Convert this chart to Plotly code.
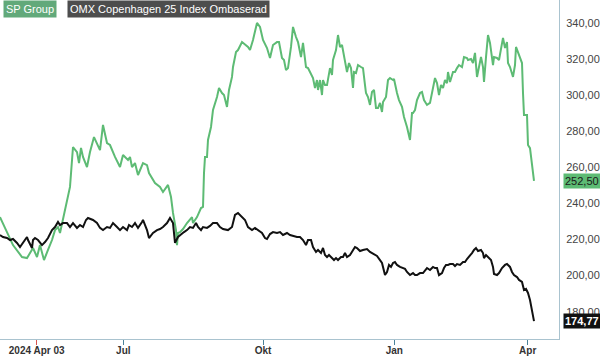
import plotly.graph_objects as go

# time index (session position) and values
t_sp = [0,7,13,22,27,33,37,40,44,48,52,55,58,60,63,67,70,73,77,79,81,83,87,90,94,100,103,107,110,115,120,123,128,130,132,135,138,143,147,149,152,155,160,163,168,171,173,176,177,178,180,183,187,192,193,197,201,203,204,205,207,208,211,213,217,219,222,224,227,229,232,233,236,238,242,245,248,250,253,257,260,263,267,270,273,277,279,282,284,286,288,291,293,296,298,301,303,306,308,310,313,315,317,318,320,322,323,325,327,330,332,333,336,338,340,342,344,347,349,351,353,354,356,358,361,363,365,366,368,370,372,374,376,378,380,382,383,386,388,390,393,394,397,399,402,404,407,410,412,413,415,417,420,422,424,427,430,433,435,437,439,441,443,445,447,448,450,453,455,457,459,462,464,467,468,471,473,475,477,478,481,483,484,486,488,490,493,494,497,499,502,503,505,507,508,510,513,515,516,518,520,522,523,524,527,528,530,532,534]
sp_values = [232.4,223.6,216.9,210.3,209.7,215.3,210.3,216.9,208.6,214.2,219.7,225.2,226.9,223.6,230.8,241.9,249.1,271.2,268.4,262.3,270.7,265.7,260.1,268.4,276.7,269.5,283.4,273.4,272.3,265.7,260.1,266.8,264.0,265.7,260.1,262.3,255.7,262.3,261.2,256.8,254.0,251.3,249.1,246.3,250.2,243.5,234.7,225.2,216.9,223.6,224.1,225.8,229.1,232.4,229.1,232.4,237.4,238.0,256.8,265.7,265.7,275.1,282.3,291.7,298.9,303.9,301.1,300.0,293.4,302.8,310.0,315.5,323.8,324.9,329.3,327.7,326.6,324.9,330.5,339.9,337.7,330.5,326.0,320.5,327.7,329.3,329.3,320.5,319.4,313.8,314.9,326.6,337.7,332.1,329.3,321.0,328.8,315.5,314.9,312.7,309.4,303.9,308.3,302.8,308.3,300.0,308.3,305.5,305.5,314.9,311.1,319.4,324.9,333.2,326.6,327.7,322.1,312.7,317.7,314.9,303.9,312.7,312.2,316.6,315.5,314.9,305.5,301.1,298.9,294.5,301.7,302.8,292.8,292.8,295.6,290.6,296.1,298.9,308.3,309.4,308.3,308.9,301.1,297.2,293.4,287.8,282.3,275.1,290.0,290.0,291.7,297.2,301.1,301.7,297.2,294.5,295.6,304.4,309.4,306.6,300.0,305.5,303.9,308.3,306.6,312.7,307.2,312.7,312.7,314.9,316.6,315.5,321.0,320.5,319.4,319.9,317.7,323.3,310.0,312.7,321.0,315.5,307.2,321.0,333.2,328.8,316.6,321.0,320.5,319.4,329.3,331.6,326.0,329.3,317.7,315.5,310.0,316.6,326.6,323.8,320.5,317.7,301.1,288.9,288.9,272.3,270.6,262.3,252.5]

t_omx = [0,3,7,10,13,17,20,23,27,28,32,33,35,38,42,45,48,52,55,58,60,63,67,70,73,77,80,83,86,88,90,93,97,100,103,107,110,113,117,120,123,127,129,132,135,138,142,143,147,149,153,157,160,163,167,170,173,175,178,181,184,187,190,193,196,198,201,203,207,210,213,217,220,223,228,232,235,238,242,245,248,252,255,258,262,265,267,270,273,277,280,283,287,290,293,297,300,303,306,308,311,313,316,318,321,323,325,327,329,332,334,336,338,341,343,345,347,350,353,355,357,360,363,367,370,373,377,380,382,383,385,387,389,391,393,395,397,400,403,405,407,410,413,415,417,420,423,427,430,433,435,437,439,442,444,446,448,450,453,455,457,460,463,465,467,469,472,474,476,478,481,483,484,486,488,491,493,494,497,499,502,505,507,510,512,514,517,519,522,524,526,528,530,532,534]
omx_values = [222.5,221.4,220.8,219.7,220.3,218.1,215.8,218.1,221.4,219.7,215.3,219.7,220.8,219.7,216.9,218.6,220.8,225.2,226.9,229.7,228.0,229.1,229.1,226.9,229.1,226.4,228.0,226.9,230.8,231.9,231.3,230.8,229.1,226.4,225.2,226.9,226.4,229.1,226.9,225.2,226.9,225.2,228.0,226.9,229.1,226.4,229.7,230.8,225.2,220.8,223.6,225.2,225.8,226.9,229.1,231.9,229.1,218.1,221.4,223.0,224.1,225.2,226.9,226.4,229.1,226.9,225.2,226.9,226.4,227.5,229.1,229.1,226.9,225.8,225.2,226.9,233.6,234.7,232.4,230.8,226.9,225.2,226.4,225.2,223.6,220.8,220.3,223.0,224.1,223.6,224.1,222.5,223.6,222.5,221.9,221.4,221.4,219.7,216.9,219.7,219.7,215.8,213.1,214.2,212.5,215.3,211.4,210.3,211.4,209.7,208.6,209.7,208.6,210.3,210.3,212.5,210.3,211.4,214.2,215.8,215.3,213.6,214.2,214.7,213.1,212.0,210.9,208.6,207.0,204.8,200.3,202.0,205.9,204.8,207.0,207.5,205.9,204.8,204.2,203.7,202.0,200.3,201.4,200.3,200.3,201.4,201.4,204.2,203.1,204.8,204.2,204.2,200.3,201.4,204.2,205.9,205.9,206.4,206.4,205.3,206.4,205.9,207.5,207.5,209.2,210.3,212.5,214.2,215.3,213.6,214.2,212.5,209.7,211.4,210.3,208.6,204.8,200.9,200.3,201.4,204.2,205.9,206.4,204.8,202.0,200.3,199.2,197.6,196.5,192.0,192.6,190.4,186.5,181.0,174.77]

x_tick_pos = [123.3, 263, 394.3, 527.7]
x_tick_text = ["Jul", "Okt", "Jan", "Apr"]
ref_tick_pos = [36.7]
ref_tick_text = ["2024 Apr 03"]
y_ticks = [180, 200, 220, 240, 260, 280, 300, 320, 340]

sp_name = "SP Group"
omx_name = "OMX Copenhagen 25 Index Ombaserad"
GREEN = "#5dbb74"
FONT = "Liberation Sans, Arial, sans-serif"

fig = go.Figure()
fig.add_trace(go.Scatter(x=t_sp, y=sp_values, mode="lines", name=sp_name,
                         line=dict(color=GREEN, width=2), hoverinfo="skip"))
fig.add_trace(go.Scatter(x=t_omx, y=omx_values, mode="lines", name=omx_name,
                         line=dict(color="#111111", width=2), hoverinfo="skip"))
# pointer triangles for last-value badges
fig.add_trace(go.Scatter(x=[562], y=[sp_values[-1]], mode="markers", cliponaxis=False,
                         marker=dict(symbol="triangle-left", size=10, color=GREEN), hoverinfo="skip"))
fig.add_trace(go.Scatter(x=[562], y=[omx_values[-1]], mode="markers", cliponaxis=False,
                         marker=dict(symbol="triangle-left", size=10, color="#111111"), hoverinfo="skip"))
# overlay axis carries the red reference tick
fig.add_trace(go.Scatter(x=[None], y=[None], xaxis="x2", hoverinfo="skip"))

fig.update_layout(
    width=600, height=358,
    margin=dict(l=0, r=41, t=0, b=19, autoexpand=False),
    paper_bgcolor="white", plot_bgcolor="white",
    showlegend=False,
    separators=", ",
    font=dict(family=FONT, size=11, color="#444"),
    xaxis=dict(range=[0, 559], showgrid=False, zeroline=False, automargin=False,
               showline=True, linecolor="#a9c3cf", linewidth=1,
               tickvals=x_tick_pos, ticktext=["<b>%s</b>" % s for s in x_tick_text],
               ticks="outside", ticklen=5, tickcolor="#4a8299", tickwidth=1,
               ticklabelstandoff=-3,
               tickfont=dict(family=FONT, size=10, color="#333"),
               ),
    xaxis2=dict(range=[0, 559], overlaying="x", side="bottom", showgrid=False,
                zeroline=False, showline=False, automargin=False,
                tickvals=ref_tick_pos, ticktext=["<b>%s</b>" % s for s in ref_tick_text],
                ticks="outside", ticklen=5, tickcolor="#d9534f", tickwidth=1,
                ticklabelstandoff=-3,
                tickfont=dict(family=FONT, size=10, color="#333")),
    yaxis=dict(range=[164.9, 352.6], side="right", showgrid=False, zeroline=False,
               showline=True, linecolor="#a9c3cf", linewidth=1, automargin=False,
               tickvals=y_ticks, tickformat=".2f", ticks="",
               ticklabelstandoff=4,
               tickfont=dict(family=FONT, size=11, color="#444")),
)

# last-value badges
fig.add_annotation(xref="paper", yref="y", x=1, y=sp_values[-1], xanchor="left", xshift=4,
                   text="252,50", showarrow=False, bgcolor=GREEN,
                   font=dict(family=FONT, size=11, color="#1a1a1a"), borderpad=1)
fig.add_annotation(xref="paper", yref="y", x=1, y=omx_values[-1], xanchor="left", xshift=4,
                   text="<b>174,77</b>", showarrow=False, bgcolor="#111111",
                   font=dict(family=FONT, size=11, color="white"), borderpad=1)

# legend-like labels
fig.add_annotation(xref="paper", yref="paper", x=0, y=1, xanchor="left", yanchor="top",
                   xshift=3, text=sp_name, showarrow=False, bgcolor="#62a97a",
                   font=dict(family=FONT, size=11, color="white"), borderpad=2)
fig.add_annotation(xref="paper", yref="paper", x=0, y=1, xanchor="left", yanchor="top",
                   xshift=67, text=omx_name, showarrow=False, bgcolor="#4d4d4d",
                   font=dict(family=FONT, size=11, color="white"), borderpad=2)

fig.write_html("out.html", config={"displayModeBar": False},
               post_script="document.body.style.margin='0';document.body.style.padding='0';")
